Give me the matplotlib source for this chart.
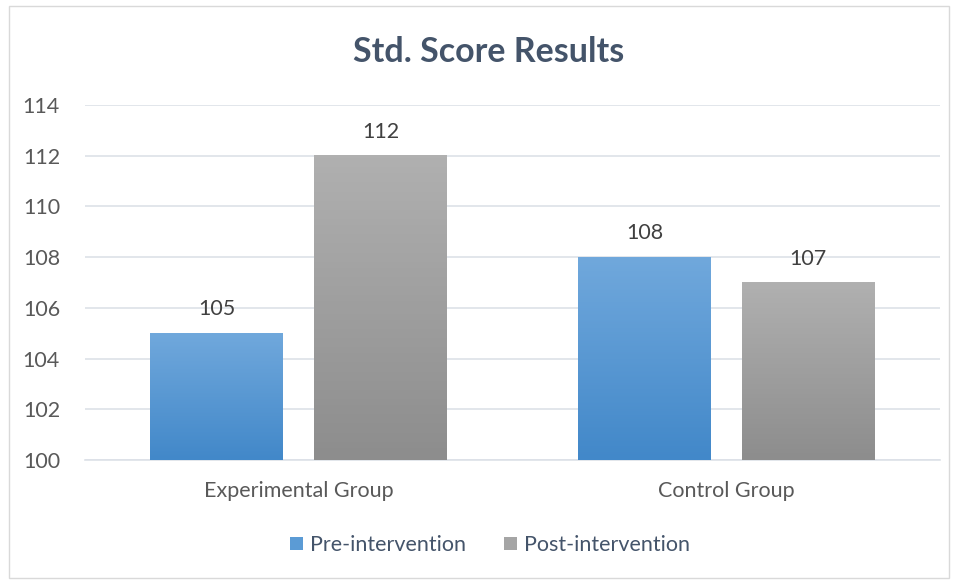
import numpy as np
import matplotlib
matplotlib.use("Agg")
import matplotlib.pyplot as plt
from matplotlib.colors import LinearSegmentedColormap
from matplotlib.patches import Rectangle, Patch

plt.rcParams['font.family'] = ['Lato', 'DejaVu Sans']

groups = ["Experimental Group", "Control Group"]
series_names = ["Pre-intervention", "Post-intervention"]
pre_scores = [105, 108]
post_scores = [112, 107]
y_ticks = [100, 102, 104, 106, 108, 110, 112, 114]

# gradient colours (top, bottom)
grad = {
    "Pre-intervention": ("#70A8DC", "#4288C9"),
    "Post-intervention": ("#B0B0B0", "#8D8D8D"),
}
legend_col = {"Pre-intervention": "#5B9BD5", "Post-intervention": "#A5A5A5"}

fig = plt.figure(figsize=(9.57, 5.81), dpi=100)
fig.patches.append(Rectangle((0.009, 0.005), 0.983, 0.985, transform=fig.transFigure,
                             fill=False, edgecolor="#D9D9D9", linewidth=1))
ax = fig.add_axes([85 / 957, 1 - 460 / 581, 855 / 957, 355 / 581])

x = np.arange(len(groups))
width = 0.311
offset = 0.1915
for vals, name, sign in [(pre_scores, series_names[0], -1), (post_scores, series_names[1], 1)]:
    bars = ax.bar(x + sign * offset, [v - 100 for v in vals], width, bottom=100,
                  color="none", edgecolor="none", zorder=3)
    cmap = LinearSegmentedColormap.from_list(name, [grad[name][1], grad[name][0]])
    for b, v in zip(bars, vals):
        x0 = b.get_x()
        x1 = x0 + b.get_width()
        img = np.linspace(0, 1, 100).reshape(-1, 1)
        ax.imshow(img, cmap=cmap, extent=(x0, x1, 100, v), origin="lower",
                  aspect="auto", zorder=3)
        ax.text(b.get_x() + b.get_width() / 2, v + 0.55, str(v), ha="center", va="bottom",
                fontsize=15.5, color="#404040")

ax.set_xlim(-0.5, 1.5)
ax.set_ylim(100, 114)
ax.set_yticks(y_ticks)
ax.set_yticklabels([str(t) for t in y_ticks], fontsize=15.5, color="#595959")
ax.set_xticks(x)
ax.set_xticklabels(groups, fontsize=15.5, color="#595959")
ax.tick_params(axis="both", length=0)
ax.tick_params(axis="x", pad=15)
ax.tick_params(axis="y", pad=18)
ax.grid(axis="y", color="#DDE1E8", linewidth=1.2, zorder=0)
ax.set_axisbelow(True)
for s in ["top", "right", "left"]:
    ax.spines[s].set_visible(False)
ax.spines["bottom"].set_color("#DDE1E8")
ax.spines["bottom"].set_linewidth(1.2)

fig.text(489 / 957, 1 - 52 / 581, "Std. Score Results", ha="center", va="center",
         fontsize=24.5, fontweight="bold", color="#44546A")

handles = [Patch(facecolor=legend_col[n], edgecolor="none", label=n) for n in series_names]
fig.legend(handles=handles, loc="center", bbox_to_anchor=(490 / 957, 1 - 545 / 581), ncol=2,
           frameon=False, fontsize=15.5, labelcolor="#44546A", handlelength=0.6,
           handleheight=0.6, handletextpad=0.3, columnspacing=1.8)

fig.savefig("out.png", dpi=100)
